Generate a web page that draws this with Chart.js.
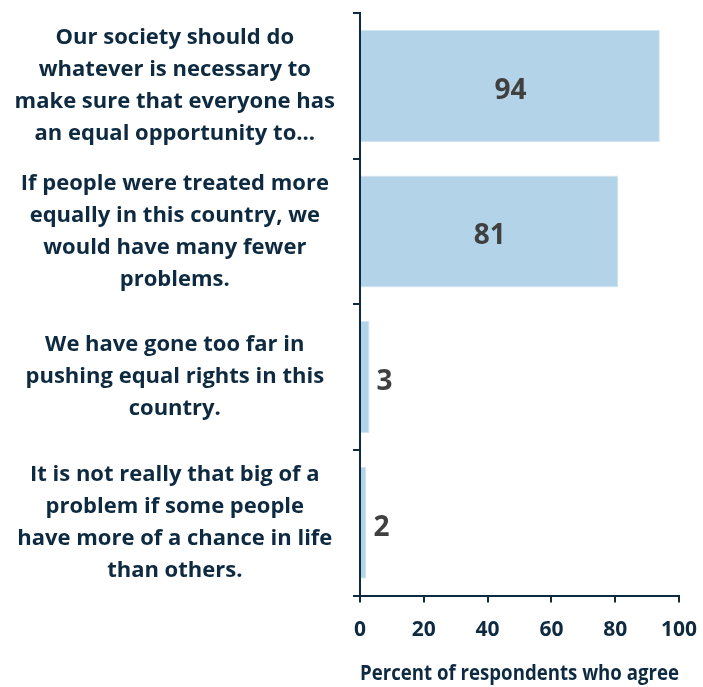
<!DOCTYPE html>
<html>
<head>
<meta charset="utf-8">
<script src="https://cdn.jsdelivr.net/npm/chart.js@4"></script>
<style>
  html, body { margin: 0; padding: 0; background: #fff; }
  #wrap { width: 703px; height: 687px; }
</style>
</head>
<body>
<div id="wrap"><canvas id="bar-chart"></canvas></div>
<script>
const categories = [
  ["Our society should do", "whatever is necessary to", "make sure that everyone has", "an equal opportunity to..."],
  ["If people were treated more", "equally in this country, we", "would have many fewer", "problems."],
  ["We have gone too far in", "pushing equal rights in this", "country."],
  ["It is not really that big of a", "problem if some people", "have more of a chance in life", "than others."]
];
const agreeValues = [94, 81, 3, 2];
const xTicks = [0, 20, 40, 60, 80, 100];

const navy = '#0e2a40';
const fontFamily = "'Open Sans', 'Noto Sans', sans-serif";

// draws the value labels, inside the bar when it's wide enough
const valueLabels = {
  id: 'valueLabels',
  afterDatasetsDraw(chart) {
    const ctx = chart.ctx;
    const meta = chart.getDatasetMeta(0);
    ctx.save();
    ctx.font = 'bold 28px ' + fontFamily;
    ctx.fillStyle = '#404040';
    ctx.textBaseline = 'middle';
    meta.data.forEach((bar, i) => {
      const v = agreeValues[i];
      if (v > 10) {
        ctx.textAlign = 'center';
        ctx.fillText(v, (bar.x + bar.base) / 2, bar.y + 5);
      } else {
        ctx.textAlign = 'left';
        ctx.fillText(v, bar.x + 7, bar.y + 5);
      }
    });
    ctx.restore();
  }
};

new Chart(document.getElementById('bar-chart'), {
  type: 'bar',
  data: {
    labels: categories,
    datasets: [{
      data: agreeValues,
      backgroundColor: '#b3d4e8',
      borderColor: '#d3e6f2',
      borderWidth: 1,
      barPercentage: 0.77,
      categoryPercentage: 1
    }]
  },
  options: {
    indexAxis: 'y',
    responsive: true,
    maintainAspectRatio: false,
    animation: false,
    layout: { padding: { left: 12, right: 0, top: 13, bottom: 0 } },
    plugins: {
      legend: { display: false },
      tooltip: { enabled: false }
    },
    scales: {
      x: {
        min: 0,
        max: 100,
        afterBuildTicks(axis) { axis.ticks = xTicks.map(v => ({ value: v })); },
        border: { color: navy, width: 2 },
        grid: { drawOnChartArea: false, color: navy, lineWidth: 2, tickLength: 7 },
        ticks: {
          color: navy,
          padding: 15,
          font: { family: fontFamily, size: 21, weight: 'bold' }
        },
        title: {
          display: true,
          text: 'Percent of respondents who agree',
          color: navy,
          padding: { top: 4, bottom: 0 },
          font: { family: fontFamily, size: 21, weight: 'bold' }
        },
        afterFit(scale) { scale.paddingRight = 24; }
      },
      y: {
        border: { color: navy, width: 2 },
        grid: { drawOnChartArea: false, color: navy, lineWidth: 2, tickLength: 7, offset: true },
        ticks: {
          color: navy,
          crossAlign: 'center',
          padding: 18,
          font: { family: fontFamily, size: 22, weight: 'bold', lineHeight: 1.45 }
        },
        // wide label column, and no extra room above/below the bands
        afterFit(scale) {
          scale.width = 348;
          scale.paddingTop = 0;
          scale.paddingBottom = 0;
        }
      }
    }
  },
  plugins: [valueLabels]
});
</script>
</body>
</html>
